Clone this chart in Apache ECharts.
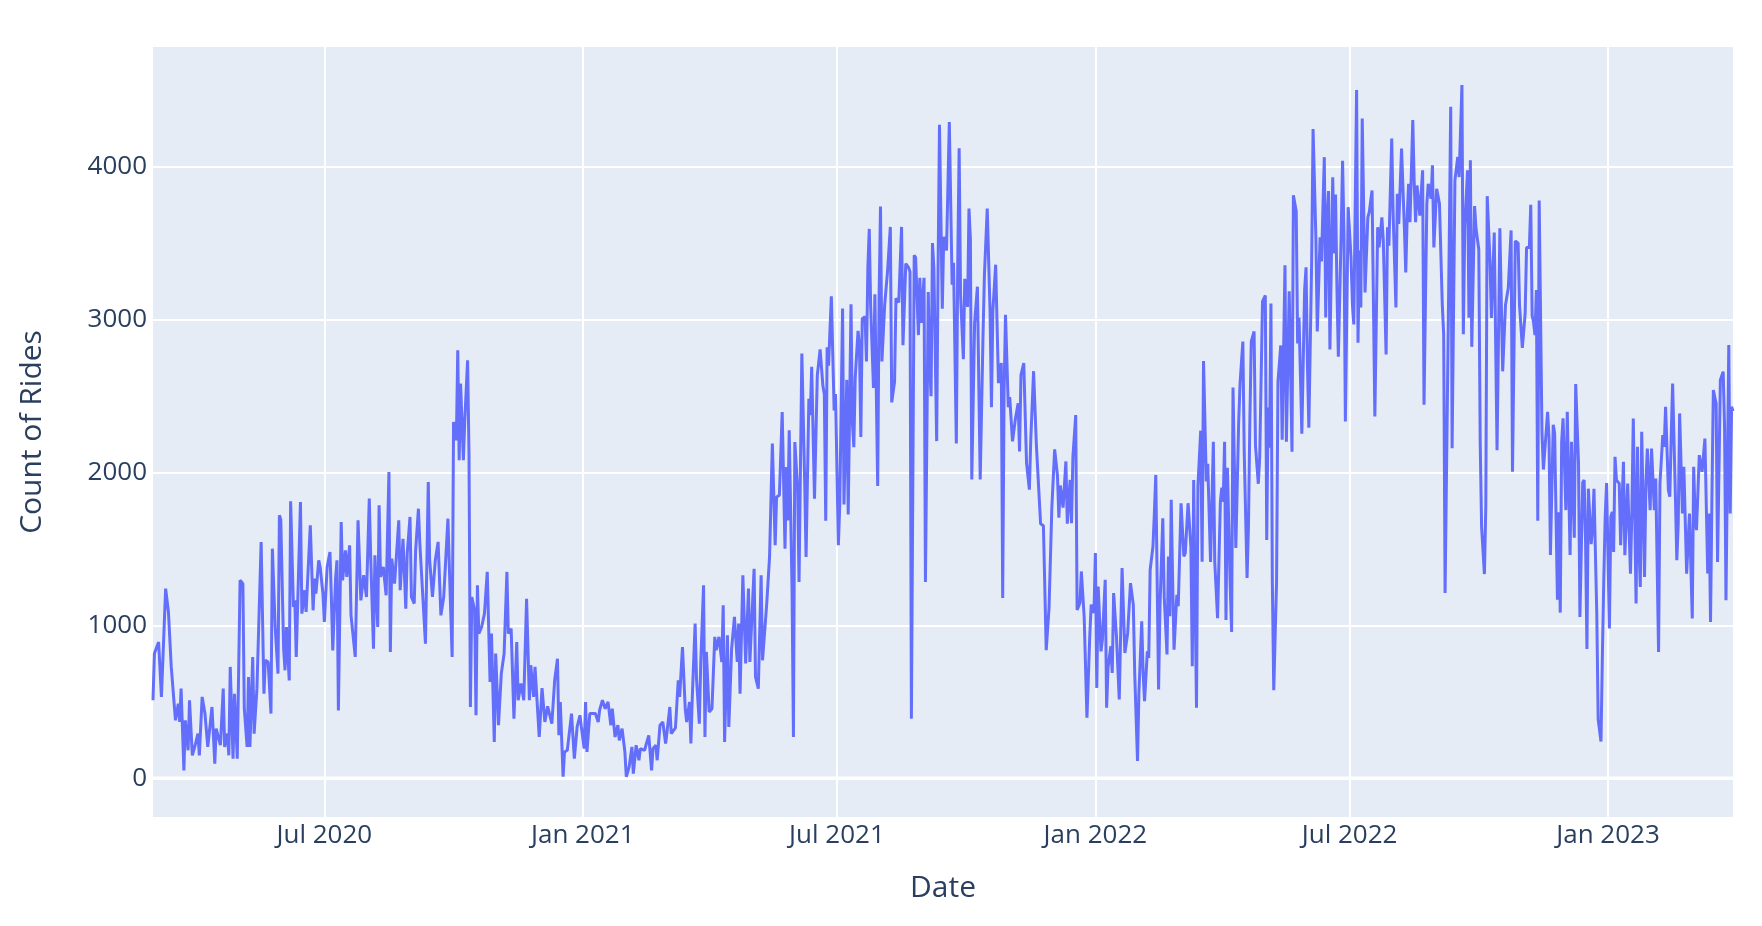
<!DOCTYPE html>
<html>
<head>
<meta charset="utf-8">
<script src="https://cdn.jsdelivr.net/npm/echarts@6/dist/echarts.min.js"></script>
<style>
html,body{margin:0;padding:0;background:#ffffff;}
#chart{width:1762px;height:926px;}
</style>
</head>
<body>
<div id="chart"></div>
<script>
// ---- data ----
const startDate = '2020-03-01';
const dayOffsets = [
0,1,4,6,9,11,13,16,18,19,
20,22,23,25,26,28,30,32,33,35,
37,39,41,42,44,45,48,50,51,53,
54,55,57,58,60,62,64,65,67,68,
69,71,72,74,75,77,79,80,82,84,
85,87,89,90,91,93,94,95,97,98,
100,101,102,105,106,108,109,112,114,115,
116,118,119,121,122,124,126,127,128,130,
131,132,134,135,137,138,140,141,144,146,
148,150,152,154,155,157,158,160,161,162,
164,166,168,169,170,172,175,176,178,180,
181,183,184,186,187,189,190,
191,194,196,197,199,201,203,205,207,210,
211,213,214,216,217,218,219,221,222,224,
225,226,227,229,230,231,232,234,236,238,
240,241,243,244,246,248,250,252,253,255,
257,259,260,262,264,266,268,269,271,272,
275,277,279,281,284,286,288,289,290,292,
293,295,298,300,302,304,305,307,308,309,
311,312,315,317,318,320,322,324,326,327,
329,331,332,334,336,337,339,341,342,344,
346,347,350,351,353,355,356,358,359,361,
363,365,366,368,369,
372,374,375,377,379,380,382,383,384,386,
387,389,390,392,393,394,396,398,400,401,
403,405,406,407,409,410,412,414,416,417,
418,420,422,424,425,428,429,431,433,434,
437,439,441,443,444,446,448,450,451,452,
453,455,456,457,459,460,462,464,465,467,
468,469,471,473,475,
477,478,479,480,481,483,485,486,488,489,
491,492,494,495,497,498,499,500,502,503,
504,505,507,508,509,510,511,513,514,516,
517,518,519,521,523,525,526,528,529,531,
533,534,536,538,539,540,542,543,545,546,
547,549,550,552,553,554,555,556,558,559,
560,562,563,565,567,
569,570,572,573,574,575,577,578,580,581,
582,583,585,587,589,591,592,594,596,597,
598,600,602,604,605,606,607,609,610,612,
614,616,617,618,620,622,624,625,627,629,
632,634,636,638,640,642,644,645,646,648,
650,651,653,654,655,657,658,660,661,
663,665,667,668,670,671,672,673,675,676,
678,679,680,682,683,684,686,688,690,692,
694,696,698,699,701,702,704,705,706,708,
709,710,712,713,714,716,717,719,720,722,
723,724,725,726,727,729,730,732,734,735,
737,739,740,741,743,744,746,747,748,750,
751,753,
755,756,758,760,761,762,763,764,765,767,
768,769,771,773,774,776,777,779,780,781,
782,784,785,787,788,790,792,793,794,795,
796,797,798,800,801,803,804,806,807,809,
810,811,812,814,815,816,818,820,821,822,
823,825,826,828,829,831,832,834,835,836,
837,838,840,841,842,843,844,846,847,848,
849,851,
853,854,855,857,858,859,860,861,863,865,
866,868,869,870,872,873,875,876,878,879,
880,882,883,885,886,887,888,889,891,892,
893,894,895,897,898,899,900,902,904,905,
907,908,910,911,912,914,916,918,919,920,
923,924,925,927,929,930,932,933,934,936,
937,938,939,941,942,944,945,946,948,949,
950,
952,953,955,957,959,960,961,963,964,965,
967,968,969,970,972,973,975,977,978,980,
981,982,983,984,985,986,987,989,990,993,
994,995,997,998,1000,1001,1002,1003,1004,1006,
1007,1009,1010,1012,1013,1015,1016,1018,1019,1020,
1021,1022,1024,1025,1026,1028,1029,1031,1032,1033,
1034,1035,1037,1038,1039,1040,1041,1042,1044,1045,
1047,1048,1050,1052,1053,1054,1056,1057,1058,1059,
1060,1062,1063,1064,1066,1067,1069,1070,1072,1073,
1075,1076,1077,1079,1080,1081,1082,1084,1085,1086,
1087,1089,1090,1092,1094,1096,1097,1098,1099,1101,
1103,1105,1107,1108,1109,1110,1111,1113,1114,1116,
1118,1119,1120,1122,1123,1124,1125
];
const rides = [
510,815,891,532,1240,1087,728,379,488,368,
586,52,379,183,510,150,216,292,150,532,
423,205,379,466,96,325,216,586,205,292,
150,728,128,553,128,1294,1272,455,205,662,
205,793,292,586,575,1545,553,771,760,423,
1501,989,684,1719,1690,850,706,989,640,1810,
1120,1163,793,1806,1076,1229,1087,1653,1098,1305,
1207,1425,1381,1207,1022,1381,1479,1185,836,1305,
1425,444,1675,1294,1490,1316,1523,1065,793,1686,
1163,1327,1185,1828,1447,847,1457,989,1784,1316,
1381,1196,2002,826,1436,1272,1686,1229,1566,1109,
1468,1708,1185,1142,1490,1762,1534,
1370,880,1937,1425,1185,1425,1545,1065,1185,1697,
1381,793,2329,2209,2797,2079,2580,2079,2340,2732,
2122,466,1185,1098,412,1261,946,989,1076,1349,
630,946,238,815,347,684,815,1349,946,978,
390,891,510,619,510,1174,510,739,532,728,
270,590,368,470,357,641,782,281,499,10,
172,183,423,129,336,412,336,194,499,172,
423,434,423,368,445,510,455,499,347,455,
270,347,248,325,172,10,74,205,30,216,
118,194,183,216,281,52,194,216,118,347,
368,227,303,466,292,
330,640,532,858,450,368,499,227,532,1011,
651,357,750,1261,270,826,434,455,924,837,
924,760,1131,238,935,336,848,1055,760,1011,
553,1327,750,1240,760,1370,662,586,1327,771,
1142,1447,2188,1523,1839,1850,2394,1501,2035,1686,
2275,1251,270,2198,1893,1283,2776,1948,1447,2481,
2373,2689,1828,2634,2804,
2564,2511,1684,2817,2697,3151,2404,2511,1524,1790,
3071,1790,2604,1724,3098,2324,2164,2617,2924,2831,
2231,3004,3017,2724,3338,3591,3084,2551,3164,1910,
3151,3738,2724,3098,3311,3604,2457,2591,3137,3111,
3604,2831,3364,3338,3311,390,3418,3404,2897,3271,
2977,3271,1283,3178,2697,2497,3498,3338,2204,3338,
4271,3070,3540,3450,4290,
3226,3370,2189,3370,4118,3160,2740,3265,3081,3724,
3528,1953,2976,3213,1953,2898,3291,3724,3055,2425,
3055,3357,2583,2714,1178,2530,3029,2425,2491,2202,
2346,2451,2136,2635,2714,2058,1887,2215,2661,2176,
1664,1651,837,1113,1769,2150,1979,1703,1914,1769,
2071,1664,1950,1667,2102,2374,1100,1146,1352,
1059,396,928,1135,1080,1472,591,1254,830,906,
1298,461,722,863,689,1211,928,515,1374,819,
950,1276,1135,689,113,559,1026,689,504,830,
787,1363,1515,1733,1983,580,1124,1700,1189,809,
1450,1059,1820,1298,841,1200,1124,1798,1450,1472,
1798,1515,733,1950,461,1906,2272,1415,2728,1940,
2056,1414,
2200,1414,1047,1807,1899,1807,2200,1034,2030,1257,
956,2554,1506,2318,2580,2855,2122,1309,1650,2344,
2855,2921,2174,1925,2095,3117,3156,1558,2423,2161,
3104,1283,576,1283,2593,2829,2213,3353,2200,3183,
3170,2135,3811,3707,2842,3012,2252,3196,3340,2698,
2292,3379,4244,3536,2921,3536,3379,4060,3012,3667,
3838,2803,3929,3431,3816,3200,2755,3560,4036,3558,
2332,3733,
3405,3098,2967,4499,2847,3449,3077,4313,3175,3667,
3700,3842,3853,2365,3602,3470,3667,3514,2770,3602,
3481,4182,3689,3077,3821,3624,3864,4116,3602,3306,
3667,3886,3635,4302,3897,3635,3875,3678,3974,2442,
3755,3886,3788,4007,3470,3853,3755,3098,2902,1211,
3536,4390,2158,3908,4061,3930,4532,2902,3602,3974,
3011,4040,2820,3740,3595,3456,2200,1642,1335,1781,
3805,
3372,3009,3567,2144,3595,3595,2660,3093,3093,3205,
3581,2004,2004,3512,3498,3093,2814,3037,3470,3470,
3749,3023,2981,2897,3191,1683,3777,2256,2018,2395,
2228,1460,2311,2256,1167,1739,1083,2200,2353,1753,
2395,1460,2200,1572,2577,2060,1055,1935,1949,1558,
846,1893,1530,1642,1893,1083,386,240,804,1300,
1709,1930,980,1709,1742,1480,2101,1949,1927,1523,
2069,1458,1927,1338,1752,2352,1142,2167,1534,1251,
2265,1316,1927,2156,1752,2156,1752,1960,825,1927,
2243,2167,2428,1883,1840,2232,2581,1840,1425,1665,
2385,1731,2036,1338,1731,1044,2036,1709,1622,2112,
2003,2221,1338,1731,1022,1840,2538,2450,1414,2603,
2658,2298,1164,2832,1731,2428,2400
];
const xTickDates = ['2020-07-01','2021-01-01','2021-07-01','2022-01-01','2022-07-01','2023-01-01'];
const yTicks = [0, 1000, 2000, 3000, 4000];
const monthNames = ['Jan','Feb','Mar','Apr','May','Jun','Jul','Aug','Sep','Oct','Nov','Dec'];
const xTitle = 'Date';
const yTitle = 'Count of Rides';

// ---- helpers ----
if (dayOffsets.length !== rides.length) {
  throw new Error('length mismatch: ' + dayOffsets.length + ' vs ' + rides.length);
}
function parseDate(s) { const p = s.split('-').map(Number); return new Date(p[0], p[1] - 1, p[2]); }
const start = parseDate(startDate);
function dayToTime(off) { return new Date(start.getFullYear(), start.getMonth(), start.getDate() + off).getTime(); }
const seriesData = dayOffsets.map((d, i) => [dayToTime(d), rides[i]]);
const xMin = dayToTime(dayOffsets[0]);
const xMax = dayToTime(dayOffsets[dayOffsets.length - 1]);
const xTicks = xTickDates.map(s => parseDate(s).getTime());

const textColor = '#2a3f5f';
const fontFamily = '"Open Sans", verdana, arial, sans-serif';

const chart = echarts.init(document.getElementById('chart'), null, { renderer: 'canvas' });
chart.setOption({
  animation: false,
  backgroundColor: '#ffffff',
  grid: {
    left: 153, right: 29, top: 47, bottom: 109,
    show: true, backgroundColor: '#E5ECF6', borderWidth: 0
  },
  xAxis: {
    type: 'value',
    min: xMin, max: xMax,
    axisLine: { show: false },
    axisTick: { show: false, customValues: xTicks },
    axisLabel: {
      customValues: xTicks,
      color: textColor, fontSize: 26, fontFamily: fontFamily, margin: 6,
      formatter: function (v) { const d = new Date(v); return monthNames[d.getMonth()] + ' ' + d.getFullYear(); }
    },
    splitLine: { show: true, lineStyle: { color: '#ffffff', width: 2 } },
    name: xTitle, nameLocation: 'middle', nameGap: 56,
    nameTextStyle: { color: textColor, fontSize: 30, fontFamily: fontFamily }
  },
  yAxis: {
    type: 'value',
    min: -253, max: 4780,
    axisLine: { show: false },
    axisTick: { show: false, customValues: yTicks },
    axisLabel: {
      customValues: yTicks,
      color: textColor, fontSize: 26, fontFamily: fontFamily, margin: 6,
      formatter: function (v) { return String(v); }
    },
    splitLine: { show: true, lineStyle: { color: '#ffffff', width: 2 } },
    name: yTitle, nameLocation: 'middle', nameGap: 106, nameRotate: 90,
    nameTextStyle: { color: textColor, fontSize: 30, fontFamily: fontFamily }
  },
  series: [
    {
      name: 'zero', type: 'line', silent: true, z: 1,
      data: [[xMin, 0], [xMax, 0]],
      symbol: 'none', lineStyle: { color: '#ffffff', width: 3.5 }
    },
    {
      name: 'rides', type: 'line', z: 2,
      data: seriesData,
      symbol: 'none', showSymbol: false,
      lineStyle: { color: '#636efa', width: 3 }
    }
  ]
});
</script>
</body>
</html>
